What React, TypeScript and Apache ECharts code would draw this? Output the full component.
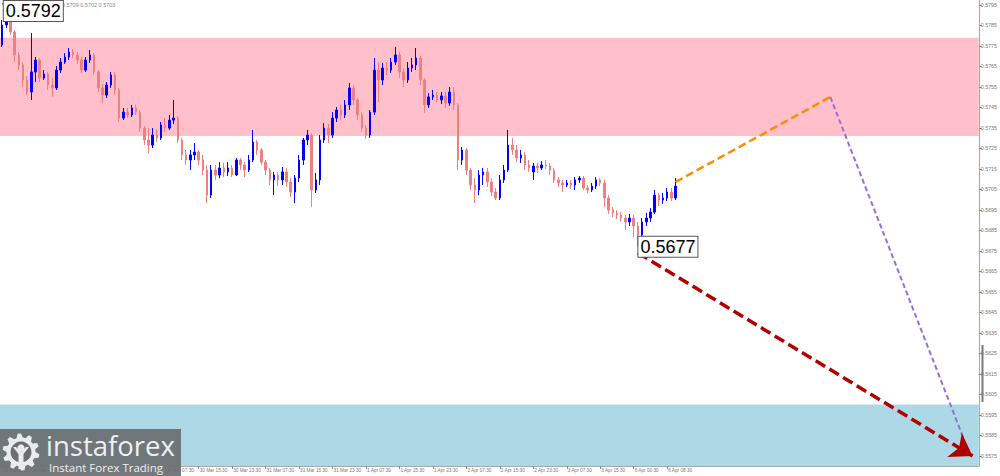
import React, { useEffect, useRef } from 'react';
import * as echarts from 'echarts';

// [open, close, low, high]
const ohlc: number[][] = [
  [0.57754, 0.57852, 0.57745, 0.57876], [0.57852, 0.57901, 0.57837, 0.5792], [0.57901, 0.57818, 0.57803, 0.57906],
  [0.57818, 0.57706, 0.57671, 0.57828], [0.57706, 0.57657, 0.57632, 0.5772], [0.57657, 0.57584, 0.57549, 0.57671],
  [0.57584, 0.57525, 0.5751, 0.57603], [0.57525, 0.57623, 0.57486, 0.57813], [0.57623, 0.57681, 0.57574, 0.57696],
  [0.57681, 0.57593, 0.57574, 0.57691], [0.57593, 0.57613, 0.57584, 0.57632], [0.57613, 0.57559, 0.57535, 0.57623],
  [0.57559, 0.57545, 0.57501, 0.57593], [0.57545, 0.57632, 0.57535, 0.57652], [0.57632, 0.57671, 0.57618, 0.57691],
  [0.57671, 0.57696, 0.57662, 0.57715], [0.57696, 0.5772, 0.57681, 0.5774], [0.5772, 0.57706, 0.57691, 0.57735],
  [0.57706, 0.57681, 0.57662, 0.5772], [0.57681, 0.57632, 0.57618, 0.57696], [0.57632, 0.57681, 0.57623, 0.57696],
  [0.57681, 0.57706, 0.57667, 0.5773], [0.57706, 0.57623, 0.57608, 0.57715], [0.57623, 0.57545, 0.57525, 0.57632],
  [0.57545, 0.5751, 0.57471, 0.57564], [0.5751, 0.57559, 0.57496, 0.57574], [0.57559, 0.57608, 0.57545, 0.57623],
  [0.57608, 0.57535, 0.5751, 0.57623], [0.57535, 0.57398, 0.57379, 0.57545], [0.57398, 0.57427, 0.57388, 0.57447],
  [0.57427, 0.57413, 0.57398, 0.57447], [0.57413, 0.57447, 0.57403, 0.57462], [0.57447, 0.57427, 0.57413, 0.57462],
  [0.57427, 0.57349, 0.5733, 0.57437], [0.57349, 0.57291, 0.57266, 0.57359], [0.57291, 0.57266, 0.57227, 0.57349],
  [0.57266, 0.57315, 0.57252, 0.57349], [0.57315, 0.57301, 0.57281, 0.5734], [0.57301, 0.57364, 0.57291, 0.57379],
  [0.57364, 0.57349, 0.5733, 0.57398], [0.57349, 0.57388, 0.5734, 0.57413], [0.57388, 0.57398, 0.57369, 0.57486],
  [0.57398, 0.57291, 0.57276, 0.57408], [0.57291, 0.57218, 0.57193, 0.57301], [0.57218, 0.57193, 0.57169, 0.57242],
  [0.57193, 0.57218, 0.57144, 0.57242], [0.57218, 0.57232, 0.57193, 0.57276], [0.57232, 0.57193, 0.57169, 0.57242],
  [0.57193, 0.57144, 0.5712, 0.57218], [0.57144, 0.57022, 0.56983, 0.57169], [0.57022, 0.57144, 0.57008, 0.57169],
  [0.57144, 0.5712, 0.57096, 0.57169], [0.5712, 0.57154, 0.57105, 0.57183], [0.57154, 0.57135, 0.5711, 0.57179],
  [0.57135, 0.57154, 0.57115, 0.57183], [0.57154, 0.5712, 0.5711, 0.57169], [0.5712, 0.57193, 0.57115, 0.57203],
  [0.57193, 0.57169, 0.57144, 0.57203], [0.57169, 0.57144, 0.5711, 0.57183], [0.57144, 0.57193, 0.57135, 0.57218],
  [0.57193, 0.57281, 0.57183, 0.5734], [0.57281, 0.57242, 0.57218, 0.57291], [0.57242, 0.57183, 0.57169, 0.57252],
  [0.57183, 0.57144, 0.5712, 0.57193], [0.57144, 0.57096, 0.57071, 0.57154], [0.57096, 0.5712, 0.57022, 0.57135],
  [0.5712, 0.57096, 0.57066, 0.57135], [0.57096, 0.57135, 0.57071, 0.57159], [0.57135, 0.57086, 0.57061, 0.57154],
  [0.57086, 0.57037, 0.57013, 0.57105], [0.57037, 0.57105, 0.56983, 0.5712], [0.57105, 0.57193, 0.57086, 0.57218],
  [0.57193, 0.57291, 0.57169, 0.57301], [0.57291, 0.57315, 0.57266, 0.5734], [0.57315, 0.57047, 0.56964, 0.57325],
  [0.57047, 0.57096, 0.57032, 0.5713], [0.57096, 0.57291, 0.57071, 0.57315], [0.57291, 0.57349, 0.57276, 0.57374],
  [0.57349, 0.57315, 0.57276, 0.57369], [0.57315, 0.57398, 0.57301, 0.57427], [0.57398, 0.57437, 0.57379, 0.57452],
  [0.57437, 0.57413, 0.57388, 0.57462], [0.57413, 0.57462, 0.57398, 0.57486], [0.57462, 0.57545, 0.57437, 0.57569],
  [0.57545, 0.57486, 0.57462, 0.57559], [0.57486, 0.57413, 0.57388, 0.57496], [0.57413, 0.57349, 0.5733, 0.57427],
  [0.57349, 0.57315, 0.57296, 0.57364], [0.57315, 0.57427, 0.57301, 0.57437], [0.57427, 0.57632, 0.57413, 0.57691],
  [0.57632, 0.57584, 0.57476, 0.57671], [0.57584, 0.57642, 0.57559, 0.57667], [0.57642, 0.57632, 0.57608, 0.57671],
  [0.57632, 0.57671, 0.57618, 0.57691], [0.57671, 0.57706, 0.57657, 0.57745], [0.57706, 0.57623, 0.57593, 0.5772],
  [0.57623, 0.57584, 0.57549, 0.57642], [0.57584, 0.57642, 0.57569, 0.57671], [0.57642, 0.57657, 0.57623, 0.57691],
  [0.57657, 0.57691, 0.57632, 0.5774], [0.57691, 0.57584, 0.57559, 0.57701], [0.57584, 0.57462, 0.57423, 0.57593],
  [0.57462, 0.57501, 0.57447, 0.5752], [0.57501, 0.5751, 0.57486, 0.57535], [0.5751, 0.57486, 0.57476, 0.57525],
  [0.57486, 0.57506, 0.57466, 0.57525], [0.57506, 0.57471, 0.57447, 0.57525], [0.57471, 0.57525, 0.57457, 0.57549],
  [0.57525, 0.57462, 0.57437, 0.57549], [0.57462, 0.57193, 0.57144, 0.57471], [0.57193, 0.57242, 0.57169, 0.57257],
  [0.57242, 0.57144, 0.5712, 0.57252], [0.57144, 0.57071, 0.57047, 0.57154], [0.57071, 0.57047, 0.56983, 0.57105],
  [0.57047, 0.5712, 0.57022, 0.57144], [0.5712, 0.57135, 0.57071, 0.57154], [0.57135, 0.57086, 0.57061, 0.57154],
  [0.57086, 0.57037, 0.57018, 0.57105], [0.57037, 0.57008, 0.56998, 0.57057], [0.57008, 0.57096, 0.56998, 0.5712],
  [0.57096, 0.57144, 0.57081, 0.57169], [0.57144, 0.57266, 0.57135, 0.5734], [0.57266, 0.57242, 0.57218, 0.57301],
  [0.57242, 0.57203, 0.57183, 0.57266], [0.57203, 0.57218, 0.57179, 0.57242], [0.57218, 0.57169, 0.57144, 0.57232],
  [0.57169, 0.57154, 0.57135, 0.57193], [0.57135, 0.57164, 0.57096, 0.57179], [0.57164, 0.57154, 0.5713, 0.57179],
  [0.57154, 0.57169, 0.57144, 0.57188], [0.57169, 0.57164, 0.57149, 0.57193], [0.57164, 0.57144, 0.5712, 0.57179],
  [0.57144, 0.57096, 0.57081, 0.57154], [0.57096, 0.57081, 0.57061, 0.5711], [0.57081, 0.57071, 0.57037, 0.57096],
  [0.57071, 0.57081, 0.57061, 0.57096], [0.57081, 0.57071, 0.57052, 0.57096], [0.57071, 0.57096, 0.57047, 0.5711],
  [0.57096, 0.57105, 0.57081, 0.57115], [0.57105, 0.57057, 0.57047, 0.57115], [0.57057, 0.57047, 0.57032, 0.57071],
  [0.57047, 0.57066, 0.57037, 0.57081], [0.57066, 0.57096, 0.57052, 0.5711], [0.57096, 0.57081, 0.57066, 0.57105],
  [0.57081, 0.57008, 0.56964, 0.57096], [0.57008, 0.56949, 0.5693, 0.57022], [0.56949, 0.56935, 0.56915, 0.56964],
  [0.56935, 0.56925, 0.56905, 0.56949], [0.56925, 0.5691, 0.56891, 0.56939], [0.5691, 0.56891, 0.56852, 0.56925],
  [0.56891, 0.5691, 0.56871, 0.5693], [0.5691, 0.56871, 0.56817, 0.56925], [0.56871, 0.56827, 0.5677, 0.56891],
  [0.56827, 0.56891, 0.56803, 0.5691], [0.56891, 0.5691, 0.56871, 0.56935], [0.5691, 0.56939, 0.56891, 0.56959],
  [0.56939, 0.57022, 0.5693, 0.57047], [0.57022, 0.56998, 0.56969, 0.57032], [0.56998, 0.57008, 0.56979, 0.57032],
  [0.57008, 0.57037, 0.56993, 0.57057], [0.57037, 0.57008, 0.56993, 0.57057], [0.57008, 0.57066, 0.56998, 0.57105],
];

const totalSlots = 234;
const xTickIndex = [0, 7, 15, 23, 31, 39, 47, 55, 63, 71, 79, 87, 95, 103, 111, 119, 127, 135, 143, 151, 159];
const xTickLabels = [
  '26 Mar 2026', '26 Mar 22:30', '27 Mar 06:30', '27 Mar 14:30', '27 Mar 22:30', '30 Mar 07:30',
  '30 Mar 15:30', '30 Mar 23:30', '31 Mar 07:30', '31 Mar 15:30', '31 Mar 23:30', '1 Apr 07:30',
  '1 Apr 15:30', '1 Apr 23:30', '2 Apr 07:30', '2 Apr 15:30', '2 Apr 23:30', '3 Apr 07:30',
  '3 Apr 15:30', '6 Apr 00:30', '6 Apr 08:30',
];
const yTickValues = [
  0.5575, 0.5585, 0.5595, 0.5605, 0.5615, 0.5625, 0.5635, 0.5645, 0.5655, 0.5665, 0.5675, 0.5685,
  0.5695, 0.5705, 0.5715, 0.5725, 0.5735, 0.5745, 0.5755, 0.5765, 0.5775, 0.5785, 0.5795,
];
const yMin = 0.557;
const yMax = 0.57974;
const resistanceZone = [0.5779, 0.5731];
const supportZone = [0.56, 0.557];
const highMark = { index: 1, value: 0.5792 };
const lowMark = { index: 152, value: 0.5677 };
const bidPrice = 0.5707;
const askPrice = 0.5703;
const forecastOrange = [[161, 0.57086], [198, 0.57501]];
const forecastPurple = [[198, 0.57501], [230, 0.55827]];
const forecastRed = [[152, 0.5674], [232, 0.55749]];
const headerText = 'NZDUSD,H1  0.5700 0.5709 0.5702 0.5703';

export default function App() {
  const ref = useRef<HTMLDivElement>(null);
  useEffect(() => {
    document.body.style.margin = '0';
    if (!ref.current) return;
    const chart = echarts.init(ref.current, undefined, { renderer: 'svg' });
    const categories = Array.from({ length: totalSlots }, (_, i) => String(i));
    const labelMap: Record<number, string> = {};
    xTickIndex.forEach((idx, k) => (labelMap[idx] = xTickLabels[k]));
    const showTick = (index: number) => labelMap[index] !== undefined;

    // gear points (decoration)
    const gc = [21, 452];
    const gear: number[][] = [];
    const teeth = 10;
    for (let t = 0; t < teeth; t++) {
      const a0 = (t / teeth) * Math.PI * 2;
      const step = (Math.PI * 2) / teeth;
      const pts = [
        [a0, 14.5], [a0 + step * 0.2, 18.5], [a0 + step * 0.5, 18.5], [a0 + step * 0.7, 14.5],
      ];
      pts.forEach(([a, r]) => gear.push([gc[0] + r * Math.cos(a), gc[1] + r * Math.sin(a)]));
    }

    const labelBox = {
      show: true,
      position: 'right' as const,
      backgroundColor: '#fff',
      borderColor: '#555',
      borderWidth: 1,
      padding: [2, 2, 0, 2],
      fontSize: 18,
      fontFamily: 'Liberation Sans',
      color: '#000',
      formatter: (p: any) => Number(p.value).toFixed(4),
    };

    const option: any = {
      animation: false,
      backgroundColor: '#fff',
      grid: { left: 0, top: 0, right: 18, bottom: 10, containLabel: false },
      xAxis: {
        type: 'category',
        data: categories,
        boundaryGap: true,
        axisLine: { show: true, lineStyle: { color: '#a8a8a8', width: 1 } },
        axisTick: { show: true, interval: (i: number) => showTick(i), length: 3, alignWithLabel: true, lineStyle: { color: '#888' } },
        axisLabel: {
          show: true,
          interval: (i: number) => showTick(i),
          formatter: (_v: string, i: number) => labelMap[i] ?? '',
          align: 'left',
          padding: [0, 0, 0, 1],
          margin: 2,
          fontSize: 4.7,
          color: '#777',
          fontFamily: 'Liberation Sans',
        },
        splitLine: { show: false },
      },
      yAxis: {
        type: 'value',
        position: 'right',
        min: yMin,
        max: yMax,
        scale: true,
        axisLine: { show: true, lineStyle: { color: '#a8a8a8', width: 1 } },
        axisTick: { show: true, customValues: yTickValues, length: 3, lineStyle: { color: '#888' } },
        axisLabel: {
          show: true,
          customValues: yTickValues,
          formatter: (v: number) => v.toFixed(4),
          margin: 2,
          fontSize: 5.3,
          color: '#777',
          fontFamily: 'Liberation Sans',
        },
        splitLine: { show: false },
      },
      series: [
        {
          type: 'candlestick',
          data: ohlc,
          barWidth: 2,
          z: 3,
          itemStyle: {
            color: '#0000ff',
            color0: '#f08080',
            borderColor: '#0000ff',
            borderColor0: '#f08080',
            borderWidth: 1,
          },
          markArea: {
            silent: true,
            z: 1,
            data: [
              [{ yAxis: resistanceZone[0], itemStyle: { color: '#ffc0cb' } }, { yAxis: resistanceZone[1] }],
              [{ yAxis: supportZone[0], itemStyle: { color: '#add8e6' } }, { yAxis: supportZone[1] }],
            ],
          },
          markPoint: {
            symbol: 'rect',
            symbolSize: 1,
            itemStyle: { color: 'rgba(0,0,0,0)' },
            data: [
              { coord: [String(highMark.index), highMark.value], value: highMark.value, label: { ...labelBox, distance: -3 } },
              { coord: [String(lowMark.index), lowMark.value], value: lowMark.value, label: { ...labelBox, distance: 0 } },
            ],
          },
          markLine: {
            symbol: 'none',
            silent: true,
            lineStyle: { opacity: 0 },
            data: [
              { yAxis: bidPrice, label: { show: true, position: 'end', distance: 1, formatter: bidPrice.toFixed(4), backgroundColor: '#000', color: '#fff', fontSize: 5.3, fontFamily: 'Liberation Sans', padding: [1, 1, 0, 1] } },
              { yAxis: askPrice, label: { show: true, position: 'end', distance: 1, formatter: askPrice.toFixed(4), backgroundColor: '#8a8a8a', color: '#fff', fontSize: 5.3, fontFamily: 'Liberation Sans', padding: [1, 1, 0, 1] } },
            ],
          },
        },
        {
          type: 'line',
          data: forecastOrange,
          symbol: 'none',
          z: 4,
          lineStyle: { color: '#ff8c00', width: 2.5, type: [8, 4] },
        },
        {
          type: 'line',
          data: forecastPurple,
          symbol: 'none',
          z: 4,
          lineStyle: { color: '#9370db', width: 2, type: [5, 3] },
        },
        {
          type: 'line',
          data: [],
          z: 4,
          markLine: {
            silent: true,
            symbol: ['none', 'arrow'],
            symbolSize: 21,
            label: { show: false },
            lineStyle: { color: '#b00000', width: 3.5, type: [11, 5] },
            data: [[{ coord: [String(forecastRed[0][0]), forecastRed[0][1]] }, { coord: [String(forecastRed[1][0]), forecastRed[1][1]] }]],
          },
        },
      ],
      graphic: [
        { type: 'text', z: 0, left: 2, top: 1, style: { text: '▾', fontSize: 6, fill: '#555' } },
        { type: 'text', z: 0, left: 9, top: 2, style: { text: headerText, fontSize: 5.5, fill: '#888', fontFamily: 'Liberation Sans' } },
        { type: 'line', z: 50, shape: { x1: 982.5, y1: 345, x2: 982.5, y2: 402 }, style: { stroke: '#7a7a7a', lineWidth: 2 } },
        {
          type: 'group',
          z: 100,
          children: [
            { type: 'rect', z: 100, shape: { x: 0, y: 429, width: 181, height: 47 }, style: { fill: '#6b6f72', opacity: 0.93 } },
            { type: 'polygon', z: 101, shape: { points: gear }, style: { fill: '#e9ecee' } },
            { type: 'circle', z: 102, shape: { cx: gc[0], cy: gc[1], r: 10.5 }, style: { fill: '#6b6f72' } },
            { type: 'circle', z: 103, shape: { cx: gc[0], cy: gc[1] - 4, r: 3.6 }, style: { fill: '#e9ecee' } },
            {
              type: 'polygon', z: 103,
              shape: { points: [[13, 447], [16, 447], [21, 452], [26, 447], [29, 447], [23.5, 454], [23.5, 469], [18.5, 469], [18.5, 454]] },
              style: { fill: '#e9ecee' },
            },
            { type: 'text', z: 103, x: 46, y: 445, style: { text: 'instaforex', fontSize: 27.5, fontFamily: 'Open Sans', fill: '#eef0f1', verticalAlign: 'middle' } },
            { type: 'text', z: 103, x: 49, y: 467, style: { text: 'Instant Forex Trading', fontSize: 11.5, fontFamily: 'Open Sans', fill: '#eef0f1', verticalAlign: 'middle' } },
          ],
        },
      ],
    };
    chart.setOption(option);
    return () => chart.dispose();
  }, []);
  return <div ref={ref} style={{ position: 'absolute', left: 0, top: 0, width: 1000, height: 476 }} />;
}
